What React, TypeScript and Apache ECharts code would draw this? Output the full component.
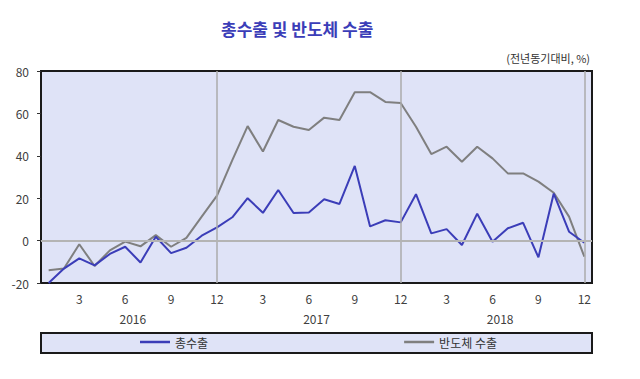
import React, { useEffect, useRef } from "react";
import * as echarts from "echarts";

const years = ["2016", "2017", "2018"];
const monthNums = ["1", "2", "3", "4", "5", "6", "7", "8", "9", "10", "11", "12"];
const categories = years.flatMap((y) => monthNums.map((m) => `${y}.${m}`));

const totalExports = [
  -20.0, -13.2, -8.4, -11.7, -6.3, -2.9, -10.3, 1.8, -5.9, -3.4, 2.3, 6.2,
  11.0, 20.0, 13.1, 23.9, 13.0, 13.3, 19.5, 17.3, 35.2, 6.7, 9.6, 8.6,
  21.9, 3.4, 5.4, -2.1, 12.7, -0.5, 5.8, 8.4, -7.9, 22.2, 4.2, -1.0,
];

const semiExports = [
  -14.0, -13.2, -1.7, -12.0, -4.6, -0.5, -2.7, 2.6, -2.9, 1.3, 11.3, 21.2,
  38.0, 54.0, 42.0, 56.9, 53.7, 52.2, 58.0, 56.9, 70.0, 70.0, 65.4, 64.9,
  53.7, 40.8, 44.3, 37.2, 44.3, 38.8, 31.7, 31.7, 27.8, 22.6, 11.3, -7.6,
];

const decMarks = ["2016.12", "2017.12", "2018.12"];

const FONT = "'Noto Sans CJK KR', 'Noto Sans', sans-serif";

export default function App() {
  const ref = useRef<HTMLDivElement>(null);

  useEffect(() => {
    if (!ref.current) return;
    const chart = echarts.init(ref.current, undefined, { renderer: "svg" });
    chart.setOption({
      animation: false,
      textStyle: { fontFamily: FONT },
      title: {
        text: "총수출 및 반도체 수출",
        left: 216,
        top: 15,
        textStyle: { fontSize: 17, fontWeight: "bold", color: "#3b3db8", fontFamily: FONT },
      },
      grid: {
        left: 41,
        right: 48,
        top: 71,
        bottom: 96,
        show: true,
        backgroundColor: "#dfe3f7",
        borderColor: "#1a1a1a",
        borderWidth: 2,
      },
      graphic: [
        {
          type: "text",
          right: 50,
          top: 52,
          style: { text: "(전년동기대비, %)", fontSize: 11, fill: "#333", fontFamily: FONT },
        },
        {
          type: "rect",
          shape: { x: 41, y: 333, width: 551, height: 20 },
          style: { fill: "#dfe3f7", stroke: "#1a1a1a", lineWidth: 2 },
          z: -1,
        },
      ],
      legend: {
        left: 140,
        top: 336,
        itemGap: 196,
        itemWidth: 30,
        itemHeight: 2.5,
        icon: "rect",
        padding: 0,
        textStyle: { fontSize: 12, color: "#333", fontFamily: FONT },
        data: ["총수출", "반도체 수출"],
      },
      xAxis: [
        {
          type: "category",
          data: categories,
          boundaryGap: true,
          axisLine: { show: false },
          axisTick: { show: false },
          splitLine: { show: false },
          axisLabel: {
            interval: (idx: number) => (idx + 1) % 3 === 0,
            formatter: (v: string) => v.split(".")[1],
            fontSize: 12,
            color: "#404040",
            margin: 9,
            fontFamily: FONT,
          },
        },
        {
          type: "category",
          data: years,
          position: "bottom",
          offset: 20,
          boundaryGap: true,
          axisLine: { show: false },
          axisTick: { show: false },
          splitLine: { show: false },
          axisLabel: { fontSize: 12, color: "#404040", margin: 9, fontFamily: FONT },
        },
      ],
      yAxis: {
        type: "value",
        min: -20,
        max: 80,
        interval: 20,
        axisLine: { show: false },
        axisTick: { show: true, length: 4, lineStyle: { color: "#333" } },
        splitLine: { show: false },
        axisLabel: { fontSize: 12, color: "#404040", margin: 12, fontFamily: FONT },
      },
      series: [
        {
          name: "guides",
          type: "line",
          data: categories.map(() => null),
          z: 1,
          silent: true,
          markLine: {
            silent: true,
            symbol: "none",
            label: { show: false },
            data: [
              ...decMarks.map((d) => ({ xAxis: d, lineStyle: { color: "#ababab", width: 1.5, type: "solid" } })),
              { yAxis: 0, lineStyle: { color: "#b4b4b4", width: 2, type: "solid" } },
            ],
          },
        },
        {
          name: "반도체 수출",
          type: "line",
          data: semiExports,
          symbol: "none",
          z: 3,
          itemStyle: { color: "#7f7f7f" },
          lineStyle: { color: "#7f7f7f", width: 2 },
        },
        {
          name: "총수출",
          type: "line",
          data: totalExports,
          symbol: "none",
          z: 4,
          itemStyle: { color: "#3b3db8" },
          lineStyle: { color: "#3b3db8", width: 2 },
        },
      ],
    });
    return () => chart.dispose();
  }, []);

  return (
    <div
      ref={ref}
      style={{ position: "absolute", left: 0, top: 0, width: 640, height: 379 }}
    />
  );
}
